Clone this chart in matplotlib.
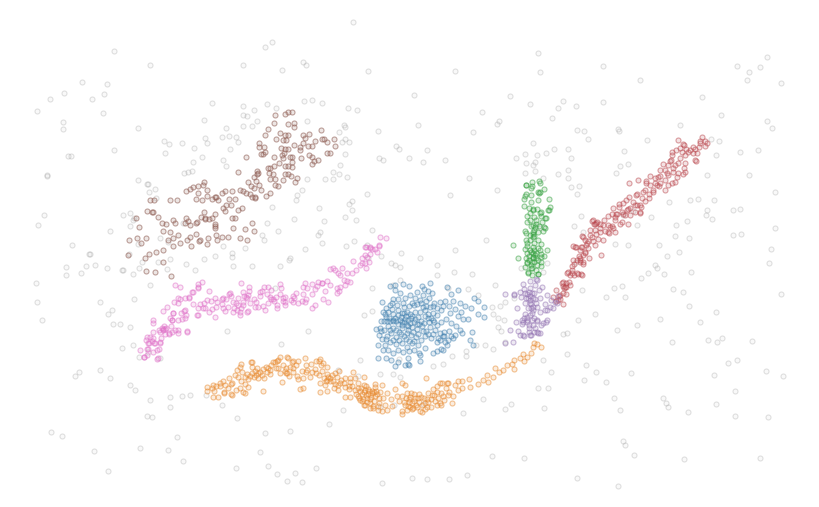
import matplotlib
matplotlib.use("Agg")
import matplotlib.pyplot as plt
import numpy as np
from matplotlib.colors import to_rgba

# values (x, y)
noise = [(353,22),(114,51),(265,47),(272,42),(303,62),(150,65),(243,65),(282,70),(368,71),(455,71),(538,53),(540,72),(603,66),(640,80),(767,57),(737,66),(749,72),(760,67),(747,80),(781,83),
(82,82),(107,84),(64,93),(50,99),(92,99),(104,94),(37,111),(63,122),(63,129),(103,113),(138,128),(164,141),(68,156),(71,156),(47,175),(114,150),(182,143),(165,153),(193,162),(188,172),(138,180),(148,184),(156,198),(47,176),
(44,215),(38,225),(36,283),(37,302),(42,320),(72,245),(90,254),(66,267),(86,266),(81,273),(95,265),(107,268),(122,270),(66,275),(100,302),(112,310),(108,314),(113,324),(120,324),(142,262),(150,285),(134,299),(130,327),(133,345),(139,357),(148,352),(122,348),(79,372),(75,376),(100,370),(110,378),(130,385),(135,390),(150,400),(147,416),(152,417),(170,397),(170,407),(182,396),(190,395),(51,432),(62,436),(94,451),(108,471),(140,448),(168,450),(183,461),(236,468),(260,452),(268,466),(277,474),(295,473),(287,481),(302,482),(316,468),(343,410),(329,424),(290,431),(265,433),(237,418),(222,405),
(206,395),(227,331),(281,344),(308,331),(160,358),(399,359),(466,351),(543,360),(567,333),(714,375),(688,412),(620,410),(177,437),(382,483),(412,478),(427,479),(449,479),(467,475),(380,407),(394,405),(423,404),(586,365),(596,372),(631,373),(606,382),(584,380),(614,398),(623,441),(625,445),(634,455),(684,459),(760,458),(768,417),(735,416),(716,404),(735,391),(783,376),(766,371),(728,363),(737,360),(752,341),(717,342),(708,340),(722,338),(641,278),(655,265),(691,272),(683,292),(660,319),(672,342),(663,398),(666,403),(668,407),(617,330),(637,325),(781,294),(769,263),(771,249),(741,234),(733,210),(740,209),(775,228),(775,192),(749,175),(740,152),(772,128),(767,121),(758,150),(721,115),(702,97),(680,125),(647,140),(618,129),(603,102),(563,101),(558,108),(552,118),(576,106),(530,104),(510,96),(482,112),(473,132),(497,124),(499,121),(533,143),(577,130),(497,190),(469,178),(450,195),(445,160),(427,150),(423,162),(418,125),(414,95),(383,160),(396,146),(399,149),(409,158),(379,158),(378,131),(345,127),(312,100),(304,101),(306,65),(204,120),(205,138),(169,144),(183,223),(168,242),(134,218),(110,231),(89,254),(160,238),(290,258),(280,266),(275,288),(232,257),(395,265),(400,267),(391,263),(381,256),(368,258),(367,245),(346,246),(320,232),(349,204),(345,217),(367,194),(352,210),(372,230),(401,253),(420,258),(437,275),(448,288),(437,265),(455,250),(486,240),(514,298),(521,268),(543,272),(547,263),(540,228),(576,262),(583,232),(574,226),(571,187),(623,215),(633,211),(637,225),(628,245),(615,244),(659,245),(676,225),(706,215),(712,219),(733,235),(716,312),(700,322),(622,286),(606,297),(595,314),(582,290),(578,320),
(492,456),(524,458),(577,478),(618,486),(495,285),(400,280),(393,285),(372,288),(372,311),(364,315),(360,360),(358,376),(338,370),
(212,103),(243,106),(243,115),(247,116),(254,110),(257,121),(243,126),(252,126),(267,104),(276,108),(307,121),(322,103),(348,108),(357,110),(344,125),(339,132),(345,139),(349,142),(342,142),(345,154),(340,165),(333,172),(339,174),(347,177),(333,179),(325,179),(307,179),(302,190),(297,195),(296,200),(319,208),(324,221),(352,201),(356,220),(354,241),(322,243),(318,235),(305,249),(278,231),(262,235),(264,240),(267,223),(294,219),(272,207),(245,248),(232,253),(215,256),(204,259),(186,264),(233,266),(252,266),(289,260),(223,246),(195,270),(167,269),(158,262),(170,259),(138,244),(129,254),(123,215),(130,213),(133,220),(130,226),(147,184),(149,192),(155,189),(123,270),(139,268),(133,274),(194,148),(202,157),(207,143),(184,173),(192,171),(223,160),(226,166),(230,149),(222,137),(229,136),(236,137),(238,142),(226,128),
(516,158),(525,154),(537,155),(546,153),(554,149),(568,149),(571,158),(526,163),(535,162),(533,165),(568,170),(525,173),(535,171),(558,174),(568,178),(543,178),(579,186),(577,194),(588,139),(584,131),(619,131),(624,151),(620,166),(628,164),(616,173),(581,216),(711,139),(719,141),(716,155),(707,175),(669,202),(690,200),(698,199),(714,200),(707,210),(651,217),(687,221),(675,236),(689,238),(667,256),(679,252),(657,268),(648,273),(664,274),(614,288),(625,297),(673,289),(689,306),
(454,272),(472,274),(468,289),(478,295),(492,307),(500,306),(505,302),(493,314),(498,318),(504,320),(498,327),(501,331),(476,345),(485,345),(493,349),(466,356),(452,356),(433,366),(443,364),(380,374),(393,374),(400,377),(483,399),(511,404),(505,409),(544,408),(463,413),(538,388),(548,388),(551,372),(567,354),(563,334),(505,342)]

blue = [(382,302),(390,286),(395,285),(403,284),(409,286),(422,286),(430,283),(432,293),(423,295),(410,295),(393,299),(398,299),(390,305),(403,303),(420,300),(433,306),(440,302),(447,287),(451,294),(458,290),(445,301),(453,301),(460,303),(474,298),(478,301),(471,308),(465,306),(484,307),(478,314),(484,317),(468,319),(463,319),(458,316),(450,313),(441,310),(433,313),(423,307),(415,312),(407,312),(398,310),(383,312),
(381,321),(384,321),(387,321),(390,321),(393,321),(396,321),(386,317),(393,314),(401,317),(404,322),(408,320),(411,318),(414,322),(418,317),(421,321),(425,316),(429,322),(433,320),(437,325),(441,322),(446,319),(451,323),(456,326),(460,330),(455,335),(449,331),(444,336),(440,333),(435,330),(430,327),(426,331),(422,326),(417,329),(412,327),(407,325),(402,328),(398,324),(393,328),(388,326),(384,330),(379,335),(382,339),(387,336),(391,333),(396,337),(401,334),(406,339),(411,335),(416,337),(421,340),(425,336),(431,338),(437,342),(443,336),(448,340),(453,338),(447,345),(443,350),(437,351),(433,353),(441,349),(451,336),(462,333),(472,332),(470,340),(473,345),(425,348),(418,345),(412,343),(407,347),(402,343),(396,344),(390,342),(385,345),(378,345),(378,358),(383,350),(388,350),(393,353),(398,350),(403,352),(409,351),(414,350),(419,353),(420,361),(408,358),(405,365),(398,362),(391,360),(386,358),(395,366),(409,365),(408,364),(420,355),
(395,290),(400,293),(405,298),(412,303),(417,304),(426,301),(429,298),(386,308),(392,309),(397,305),(404,307),(409,306),(415,298),(431,318),(437,315),(443,306),(449,306),(455,309),(461,312),(385,314),(380,328),(404,313),(410,314),(420,312),(425,310),(428,314),(434,322),(408,330),(413,332),(417,324),(402,322),(407,333),(393,320),(399,332),
(389,318),(395,318),(400,320),(405,319),(410,323),(415,319),(419,324),(406,316),(412,316),(408,326),(402,325),(396,330),(390,330),(386,339),(393,340),(399,340),(404,336),(409,341),(414,341),(418,334),(423,331),(428,334),(433,334),(424,323),(428,318),(402,313),(398,315),(388,312),(392,303),(417,292),(424,289),(428,291),(414,305),(421,303),(438,338),(445,342),(440,340),(444,332),(381,331),(376,329),(426,306),(434,303),(430,307),(437,308)]

orange = [(207,387),(207,391),(213,385),(214,391),(213,397),(218,397),(220,386),(225,385),(231,384),(224,393),(231,394),(236,390),(232,383),(240,388),(245,384),(238,377),(245,377),(252,373),(248,379),(256,375),(260,372),(267,372),(264,378),(270,374),(276,368),(277,361),(271,365),(266,367),(283,365),(286,368),(290,367),(289,376),(293,372),(297,376),(303,378),(302,371),(306,365),(311,364),(316,361),(320,359),(321,365),(322,371),(316,373),(327,374),(332,375),(337,377),(333,381),(326,381),(341,380),(345,378),(338,385),(350,382),(345,387),(352,386),(358,388),(365,390),(362,394),(356,394),(368,394),(372,391),(375,396),(379,398),(374,401),(370,403),(367,398),(364,385),(375,387),(380,392),(382,385),(370,408),(378,410),(385,405),(364,405),(358,396),(397,396),(395,389),(402,396),(406,398),(411,393),(415,398),(419,394),(424,398),(428,393),(433,389),(437,386),(442,383),(441,393),(446,388),(448,395),(444,400),(438,398),(431,399),(425,403),(419,402),(412,403),(408,406),(402,411),(420,411),(431,407),(437,405),(413,408),(449,392),(453,396),(458,390),(455,385),(462,381),(462,388),(469,379),(470,387),(478,384),(483,380),(487,375),(488,382),(493,377),(499,372),(495,368),(503,370),(507,365),(512,364),(514,369),(520,358),(524,361),(527,357),(531,353),(533,347),(537,344),(541,347),(534,343),(514,360),(523,354),
(212,388),(216,386),(228,388),(241,381),(250,376),(255,371),(258,378),(263,369),(273,362),(280,373),(287,373),(292,362),(298,361),(288,358),(296,365),(306,372),(312,372),(324,378),(330,378),(335,373),(344,383),(349,389),(355,390),(360,391),(363,399),(371,397),(377,394),(383,398),(372,393),(369,391),(366,395),(359,398),(379,403),(373,406),(387,393),(391,399),(399,401),(404,402),(409,399),(414,394),(416,405),(421,397),(427,399),(432,395),(437,392),(443,396),(447,383),(223,381),(242,372),(257,368),(240,367),(251,362),(286,373),(245,393),(280,357),(310,377),(319,375),(325,385),(334,388),(366,386),(407,393),(434,395),(425,409),(441,405),
(241,364),(252,362),(252,367),(278,360),(275,362),(287,357),(293,361),(305,358),(319,361),(323,363),(327,367),(339,371),(353,372),(364,377),(350,378),(355,378),(358,383),(375,384),(402,383),(405,385),(426,378),(440,383),(448,383),(458,381),(263,391),(300,389),(303,388),(320,392),(327,391),(338,390),(345,397),(350,397),(382,411),(387,410),(392,406),(402,414),(407,410),(412,409),(422,412),(427,407),(440,403),(452,403),(373,408),(365,405),(360,400),(220,383),(224,392),(232,395),(243,392),(248,387),(237,370),(235,375),(229,378),(268,368),(282,382),(298,379),(307,370),(315,369),(320,383),(327,380),
(258,373),(262,375),(254,377),(247,374),(330,381),(335,384),(328,377),(368,389),(364,392),(361,388),(374,392),(370,399),(376,391),(367,402),(362,401),(378,406),(409,402),(414,401),(418,398),(410,397),(405,405),(417,407),(422,405),(428,402),(435,401),(410,407),(293,368),(285,371),(278,368),(270,370),(349,386),(340,383)]

green = [(539,181),(532,182),(526,185),(531,188),(538,192),(526,194),(531,195),(540,192),(524,199),(531,202),(538,200),(549,199),(524,206),(529,208),(550,207),(533,210),(537,209),(530,213),(541,212),(549,210),(534,217),(541,216),(545,218),(536,220),(530,220),(527,222),(531,226),(534,230),(542,222),(545,228),(539,226),(543,231),(526,233),(530,235),(534,236),(526,240),(530,240),(534,243),(538,240),(533,247),(538,248),(527,246),(513,245),(527,253),(531,252),(535,255),(540,250),(547,250),(526,258),(533,258),(538,260),(541,254),(544,256),(518,258),(527,263),(532,262),(537,265),(541,262),(525,267),(531,268),(536,270),(528,273),(532,275),(538,274),(531,265),(534,262),
(526,185),(532,186),(540,183),(544,189),(539,193),(525,196),(548,210),(533,209),(540,213),(546,218),(527,216),(544,227),(533,225),(525,231),(538,232),(533,237),(527,243),(541,244),(525,249),(541,257),(533,253),(530,250),(536,253),(533,257),(527,262),(532,268),(541,266),(538,274),(528,272),(533,232),(533,234),(535,227),(536,224),(529,256),(534,250),(529,260),(536,258)]

purple = [(523,284),(530,281),(536,279),(535,285),(524,289),(530,288),(527,294),(534,293),(539,290),(521,297),(526,298),(533,298),(540,298),(514,295),(505,294),(525,303),(530,303),(536,303),(545,304),(551,300),(558,296),(555,302),(550,307),(545,310),(540,312),(528,308),(533,310),(537,307),(525,314),(530,315),(534,318),(522,320),(527,322),(532,320),(537,321),(547,320),(516,322),(522,324),(529,325),(535,328),(541,325),(546,322),(529,332),(534,332),(520,335),(524,336),(531,335),(538,333),(505,343),(513,342),(518,331),(547,295),(510,330),(530,296),(531,308),
(537,280),(542,287),(514,294),(520,292),(525,293),(532,293),(528,298),(535,299),(533,307),(532,313),(517,308),(527,317),(523,322),(537,320),(543,323),(533,325),(547,310),(553,308),(557,303),(537,332),(523,335),(530,335),(540,333),(527,320),(524,318),(529,328),(530,300),(529,292),(531,304)]

red = [(559,296),(563,293),(560,299),(556,301),(553,297),(563,286),(566,283),(569,282),(565,287),(572,273),(570,275),(574,275),(578,274),(581,274),(568,272),(572,270),(574,264),(577,260),(580,258),(583,255),(580,250),(585,252),(588,248),(581,247),(576,247),(586,245),(588,241),(592,237),(596,234),(582,236),(585,240),(590,230),(595,230),(600,228),(605,231),(596,223),(603,240),(609,233),(612,226),(608,225),(615,220),(613,228),(620,224),(616,214),(622,212),(627,210),(625,215),(630,208),(635,205),(640,205),(645,201),(649,194),(653,190),(645,190),(650,185),(655,183),(660,183),(646,181),(655,178),(660,176),(665,180),(672,183),(667,173),(673,172),(678,173),(675,165),(668,165),(665,170),(680,158),(671,160),(680,148),(684,145),(688,152),(690,150),(695,149),(700,143),(705,141),(699,147),(685,155),(695,160),(684,168),(676,150),(678,140),(672,152),(659,186),(650,176),(640,212),(630,215),(637,194),(629,197),(623,203),(619,207),(612,214),(604,220),(600,224),(593,241),(583,264),(592,221),(594,224),(573,246),(579,256),(598,239),(580,262),(564,288),(562,283),
(683,144),(686,149),(682,152),(693,147),(697,153),(693,153),(696,161),(702,137),(700,141),(707,143),(705,146),(672,155),(670,161),(663,164),(678,163),(685,163),(685,172),(683,174),(673,168),(660,170),(658,177),(668,175),(677,177),(675,182),(668,185),(665,190),(657,185),(653,192),(646,183),(638,180),(629,183),(643,192),(649,198),(642,198),(636,195),(633,202),(626,200),(641,207),(637,205),(628,209),(640,213),(635,212),(619,204),(613,208),(617,214),(623,214),(608,216),(615,217),(622,222),(628,224),(593,220),(597,222),(595,224),(603,225),(610,227),(615,232),(608,232),(600,232),(590,235),(583,237),(575,247),(582,247),(587,243),(595,245),(601,255),(589,258),(585,253),(580,260),(573,260),(572,266),(583,262),(567,273),(582,275),(577,273),(563,282),(570,285),(566,287),(556,290),(566,294),(558,300),(563,304),(560,295)]

pink = [(144,357),(147,355),(148,349),(152,341),(148,343),(154,343),(160,342),(157,350),(150,337),(161,338),(159,330),(163,329),(166,328),(171,326),(172,332),(165,334),(169,334),(175,330),(178,333),(187,331),(178,320),(172,320),(170,318),(182,319),(186,315),(173,313),(185,310),(184,311),(180,299),(189,298),(193,304),(198,287),(192,292),(200,304),(205,308),(198,308),(197,315),(204,303),(211,301),(212,309),(216,307),(222,304),(226,299),(228,307),(231,296),(234,308),(238,298),(243,305),(240,312),(233,312),(246,297),(250,303),(254,299),(249,291),(256,302),(260,296),(263,306),(267,294),(271,299),(277,305),(271,290),(262,291),(285,302),(280,294),(283,298),(291,300),(294,298),(298,303),(303,294),(306,299),(296,293),(307,288),(312,294),(318,282),(315,289),(322,283),(323,299),(317,286),(325,291),(330,285),(337,293),(340,287),(345,285),(335,270),(340,275),(347,281),(352,273),(344,280),(356,270),(360,265),(365,263),(369,262),(362,258),(370,254),(367,257),(366,268),(372,249),(379,246),(386,238),(380,237),(365,247),(370,247),(375,249),(146,340),(140,350),(158,358),(153,332),(202,282),(178,303),(223,298),(229,294),(236,303),(255,307),(244,296),(274,301),(302,301),(225,311),(248,311),
(175,285),(180,287),(193,292),(198,284),(198,288),(189,297),(185,298),(178,298),(174,302),(167,307),(163,311),(173,313),(181,313),(185,318),(153,320),(153,323),(172,320),(162,328),(165,329),(160,332),(169,333),(178,330),(187,332),(147,337),(153,338),(149,343),(160,343),(155,343),(159,349),(147,349),(153,352),(144,357),(157,359),(198,315),(215,317),(209,312),(203,308),(207,300),(209,291),(215,298),(230,293),(243,292),(249,287),(241,283),(264,287),(260,292),(268,287),(280,284),(281,288),(293,296),(303,287),(305,283),(312,284),(322,283),(327,281),(330,269),(333,268),(338,273),(342,268),(353,261),(362,263),(366,247),(370,248),(377,252),(379,245),(365,255),(347,273),(350,282),(337,288),(339,291),(328,302),(315,305),(312,308),(305,302),(293,302),(285,305),(277,308),(265,310),(258,307),(240,315),(247,312),(237,310),(223,308),(247,298),(243,302),(248,295),(270,297),(273,299),(283,301),(285,297),(238,305),(233,302),(241,308),(268,303),(276,297),(222,299),(217,302),(163,330),(164,326)]

groups = [(blue, "#3f7fae"), (orange, "#e8882c"), (green, "#2f9e3a"), (red, "#b9454c"),
          (purple, "#9272b2"), (pink, "#e070c8")]

brown = [(275,115),(285,114),(288,112),(292,112),(274,123),(288,124),(294,123),(294,127),(268,129),(265,135),(280,133),(285,135),(288,135),(276,139),(283,140),(286,140),(303,135),(309,134),(305,138),(321,130),(322,139),(324,139),(327,142),(334,139),(335,146),(315,141),(312,146),(308,146),(303,143),(300,147),(300,150),(294,145),(281,148),(285,149),(288,149),(284,153),(282,155),(283,158),(290,157),(292,157),(301,158),(309,155),(312,157),(314,161),(318,160),(312,164),(327,153),(330,153),(259,143),(259,147),(264,147),(265,152),(261,154),(263,154),(246,157),(274,157),(292,162),(279,163),(274,166),(270,168),(268,168),(285,166),(288,166),(292,167),(238,172),(257,171),(258,173),(257,174),(269,173),(273,174),(285,174),(288,174),(291,176),(254,177),(270,179),(275,179),(297,178),(283,180),(295,182),(256,181),
(248,182),(251,186),(254,188),(246,193),(243,191),(259,185),(261,190),(275,185),(270,193),(278,186),(266,196),(250,194),(252,197),(255,197),(255,198),(240,190),(232,191),(225,191),(222,193),(215,197),(218,200),(207,196),(204,182),(203,185),(207,190),(198,186),(193,187),(186,191),(190,189),(198,193),(196,199),(202,200),(204,212),(177,200),(170,200),(150,200),(154,200),(212,199),(216,197),(229,199),(235,199),(238,210),(242,208),(231,205),(226,205),(223,208),(215,214),(212,218),(205,218),(201,217),(186,218),(205,219),(209,219),(196,223),(225,211),(232,218),(235,218),(215,224),(215,226),(197,222),(190,225),(188,221),(185,223),(173,220),(175,223),(166,224),(162,223),(152,212),(158,217),(153,212),(147,211),(136,218),(129,240),(139,227),(137,238),(141,243),(146,238),(163,231),(170,232),(168,240),(173,238),(190,237),(178,235),(187,240),(200,240),(208,238),(216,235),(222,237),(228,237),(233,228),(240,238),(245,229),(252,223),(254,231),(145,258),(149,254),(156,252),(163,250),(173,246),(180,243),(199,241),(191,246),(196,234),(217,240),(207,244),(215,228),(247,240),(171,276),(146,271),(155,272),(163,262),(128,255)]

# picture units map one to one on the axes
fig = plt.figure(figsize=(8.2, 5.07), dpi=100)
ax = fig.add_axes([0, 0, 1, 1])
ax.set_xlim(0, 820)
ax.set_ylim(507, 0)
ax.axis("off")


def draw(points, color, fa, ea):
    pts = np.array(points)
    ax.scatter(pts[:, 0], pts[:, 1], s=13, facecolor=to_rgba(color, fa),
               edgecolor=to_rgba(color, ea), linewidth=0.8)


draw(noise, "#8a8a8a", 0.05, 0.25)
for pts, c in groups:
    draw(pts, c, 0.15, 0.5)
draw(brown, "#8c5a50", 0.15, 0.55)

fig.savefig("out.png", dpi=100)
